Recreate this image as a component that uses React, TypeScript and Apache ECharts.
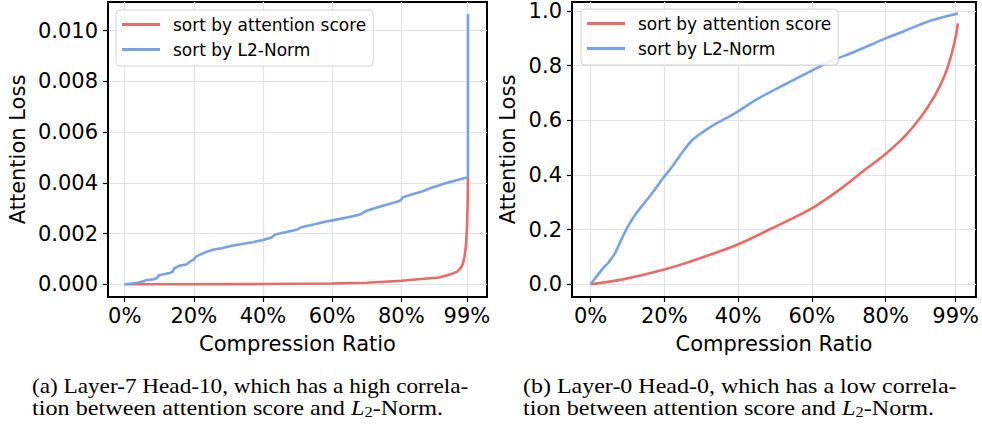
import React, { useEffect, useRef } from "react";
import * as echarts from "echarts";

// ---- Data ----
const seriesNames = ["sort by attention score", "sort by L2-Norm"];
const xTickValues = [0, 20, 40, 60, 80, 99];
const leftYTicks = [0, 0.002, 0.004, 0.006, 0.008, 0.01];
const rightYTicks = [0, 0.2, 0.4, 0.6, 0.8, 1.0];

// (a) Layer-7 Head-10
const leftAttnX = [0, 20, 40, 60, 70, 80, 85, 91, 95, 96, 97, 97.8, 98.3, 98.7, 99.0, 99.2, 99.3];
const leftAttnY = [0, 0.000005, 0.00001, 0.00003, 0.00006, 0.00014, 0.0002, 0.00027, 0.00043, 0.00049, 0.0006, 0.0008, 0.0011, 0.0015, 0.0022, 0.0032, 0.0042];
const leftL2X = [0, 2, 4, 5.5, 6, 8.5, 9.3, 10, 13, 13.8, 14.3, 15.5, 17.8, 19, 20, 20.5, 22, 23.5, 25.5, 28, 31, 34, 37, 40, 42.5, 43.5, 46.5, 50, 51, 55, 58, 62, 66, 68, 70, 73, 76, 79.5, 80.5, 82.5, 86, 89, 93, 96, 99.3, 99.3];
const leftL2Y = [0, 0.00003, 0.00007, 0.00012, 0.00016, 0.0002, 0.00025, 0.00036, 0.00045, 0.00049, 0.00062, 0.00072, 0.00078, 0.0009, 0.00098, 0.00108, 0.00118, 0.00127, 0.00136, 0.00142, 0.00152, 0.00159, 0.00166, 0.00175, 0.00185, 0.00196, 0.00205, 0.00216, 0.00225, 0.00237, 0.00247, 0.00257, 0.00268, 0.00275, 0.0029, 0.00303, 0.00315, 0.00328, 0.00343, 0.00352, 0.00366, 0.00382, 0.00399, 0.0041, 0.00422, 0.01065];

// (b) Layer-0 Head-0
const rightAttnX = [0, 8.8, 19.5, 26.8, 39.6, 49.2, 60, 68, 74.3, 80, 85.1, 89.6, 93.2, 95.9, 97.7, 99, 99.6];
const rightAttnY = [0, 0.018, 0.052, 0.082, 0.144, 0.205, 0.278, 0.351, 0.418, 0.477, 0.54, 0.613, 0.687, 0.76, 0.833, 0.906, 0.955];
const rightL2X = [0, 1.6, 3.4, 4.8, 6.6, 8.3, 10.1, 12.4, 16, 19.5, 22.3, 25, 27.6, 30.3, 33.9, 37.5, 39.6, 44.7, 50.1, 55.5, 60, 65.4, 71.6, 80, 85.1, 92.3, 99.6];
const rightL2Y = [0, 0.028, 0.059, 0.079, 0.113, 0.162, 0.211, 0.26, 0.321, 0.385, 0.434, 0.485, 0.528, 0.556, 0.587, 0.613, 0.629, 0.674, 0.713, 0.751, 0.782, 0.818, 0.851, 0.9, 0.927, 0.965, 0.991];

const captionALine1 = "(a) Layer-7 Head-10, which has a high correla-";
const captionBLine1 = "(b) Layer-0 Head-0, which has a low correla-";
const captionLine2 = "tion between attention score and {i|L}{s|2}-Norm.";

const RED = "#EA6A67";
const BLUE = "#77A2E7";
const FONT = "DejaVu Sans";

const zip = (xs: number[], ys: number[]) => xs.map((x, i) => [x, ys[i]]);

function xAxisDef(gridIndex: number, min: number, max: number) {
  return {
    type: "value",
    gridIndex,
    min,
    max,
    name: "Compression Ratio",
    nameLocation: "middle",
    nameGap: 36,
    nameTextStyle: { fontFamily: FONT, fontSize: 21, color: "#000" },
    axisLine: { show: true, onZero: false, lineStyle: { color: "#000", width: 2 } },
    axisTick: { show: true, length: 5, customValues: xTickValues, lineStyle: { color: "#000", width: 1.2 } },
    axisLabel: {
      customValues: xTickValues,
      formatter: (v: number) => `${v}%`,
      fontFamily: FONT,
      fontSize: 21,
      color: "#000",
      margin: 8,
    },
    splitLine: { show: true, lineStyle: { color: "#e3e3e3", width: 1.2 } },
  };
}

function yAxisDef(gridIndex: number, min: number, max: number, ticks: number[], digits: number, nameGap: number) {
  return {
    type: "value",
    gridIndex,
    min,
    max,
    name: "Attention Loss",
    nameLocation: "middle",
    nameGap,
    nameTextStyle: { fontFamily: FONT, fontSize: 21, color: "#000" },
    axisLine: { show: true, onZero: false, lineStyle: { color: "#000", width: 2 } },
    axisTick: { show: true, length: 5, customValues: ticks, lineStyle: { color: "#000", width: 1.2 } },
    axisLabel: {
      customValues: ticks,
      formatter: (v: number) => v.toFixed(digits),
      fontFamily: FONT,
      fontSize: 21,
      color: "#000",
      margin: 10,
    },
    splitLine: { show: true, lineStyle: { color: "#e3e3e3", width: 1.2 } },
  };
}

function legendDef(left: number, top: number) {
  return {
    left,
    top,
    orient: "vertical",
    data: seriesNames,
    icon: "rect",
    itemWidth: 38,
    itemHeight: 3,
    itemGap: 8,
    padding: [6, 7, 8, 6],
    backgroundColor: "rgba(255,255,255,0.85)",
    borderColor: "#d4d4d4",
    borderWidth: 1,
    borderRadius: 4,
    selectedMode: false,
    textStyle: { fontFamily: FONT, fontSize: 17, color: "#000", lineHeight: 17, padding: [0, 0, 0, 8] },
  };
}

function lineSeries(name: string, color: string, data: number[][], idx: number, smooth: number) {
  return {
    type: "line",
    name,
    xAxisIndex: idx,
    yAxisIndex: idx,
    data,
    showSymbol: false,
    symbol: "none",
    smooth,
    color,
    lineStyle: { color, width: 2.6 },
    z: 3,
  };
}

function captionText(x: number, y: number, scaleX: number, text: string) {
  return {
    type: "text",
    x,
    y,
    scaleX,
    style: {
      text,
      fontFamily: "Liberation Serif",
      fontSize: 21.5,
      lineHeight: 22,
      fill: "#000",
      rich: {
        i: { fontFamily: "Liberation Serif", fontSize: 21.5, fontStyle: "italic", fill: "#000" },
        s: { fontFamily: "Liberation Serif", fontSize: 14.5, fill: "#000", verticalAlign: "bottom", lineHeight: 14, padding: [7, 0, 0, 0] },
      },
    },
  };
}

export default function App() {
  const ref = useRef<HTMLDivElement>(null);
  useEffect(() => {
    if (!ref.current) return;
    const chart = echarts.init(ref.current, undefined, { renderer: "svg" });
    chart.setOption({
      animation: false,
      backgroundColor: "#fff",
      grid: [
        { left: 108, top: 2, width: 379, height: 295, show: true, borderColor: "#000", borderWidth: 2, containLabel: false },
        { left: 572, top: 2, width: 407, height: 295, show: true, borderColor: "#000", borderWidth: 2, containLabel: false },
      ],
      xAxis: [xAxisDef(0, -4.83, 104.8), xAxisDef(1, -5.03, 104.5)],
      yAxis: [
        yAxisDef(0, -0.0005, 0.01113, leftYTicks, 3, 80),
        yAxisDef(1, -0.0465, 1.033, rightYTicks, 1, 54),
      ],
      legend: [legendDef(116, 10), legendDef(581, 9)],
      series: [
        lineSeries(seriesNames[0], RED, zip(leftAttnX, leftAttnY), 0, 0),
        lineSeries(seriesNames[1], BLUE, zip(leftL2X, leftL2Y), 0, 0),
        lineSeries(seriesNames[0], RED, zip(rightAttnX, rightAttnY), 1, 0.3),
        lineSeries(seriesNames[1], BLUE, zip(rightL2X, rightL2Y), 1, 0.3),
      ],
      graphic: [
        captionText(32, 375, 1.08, captionALine1),
        captionText(32, 397, 1.125, captionLine2),
        captionText(523, 375, 1.116, captionBLine1),
        captionText(523, 397, 1.125, captionLine2),
      ],
    });
    return () => chart.dispose();
  }, []);
  return (
    <div
      ref={ref}
      style={{ position: "absolute", left: 0, top: 0, width: 982, height: 430, background: "#fff" }}
    />
  );
}
